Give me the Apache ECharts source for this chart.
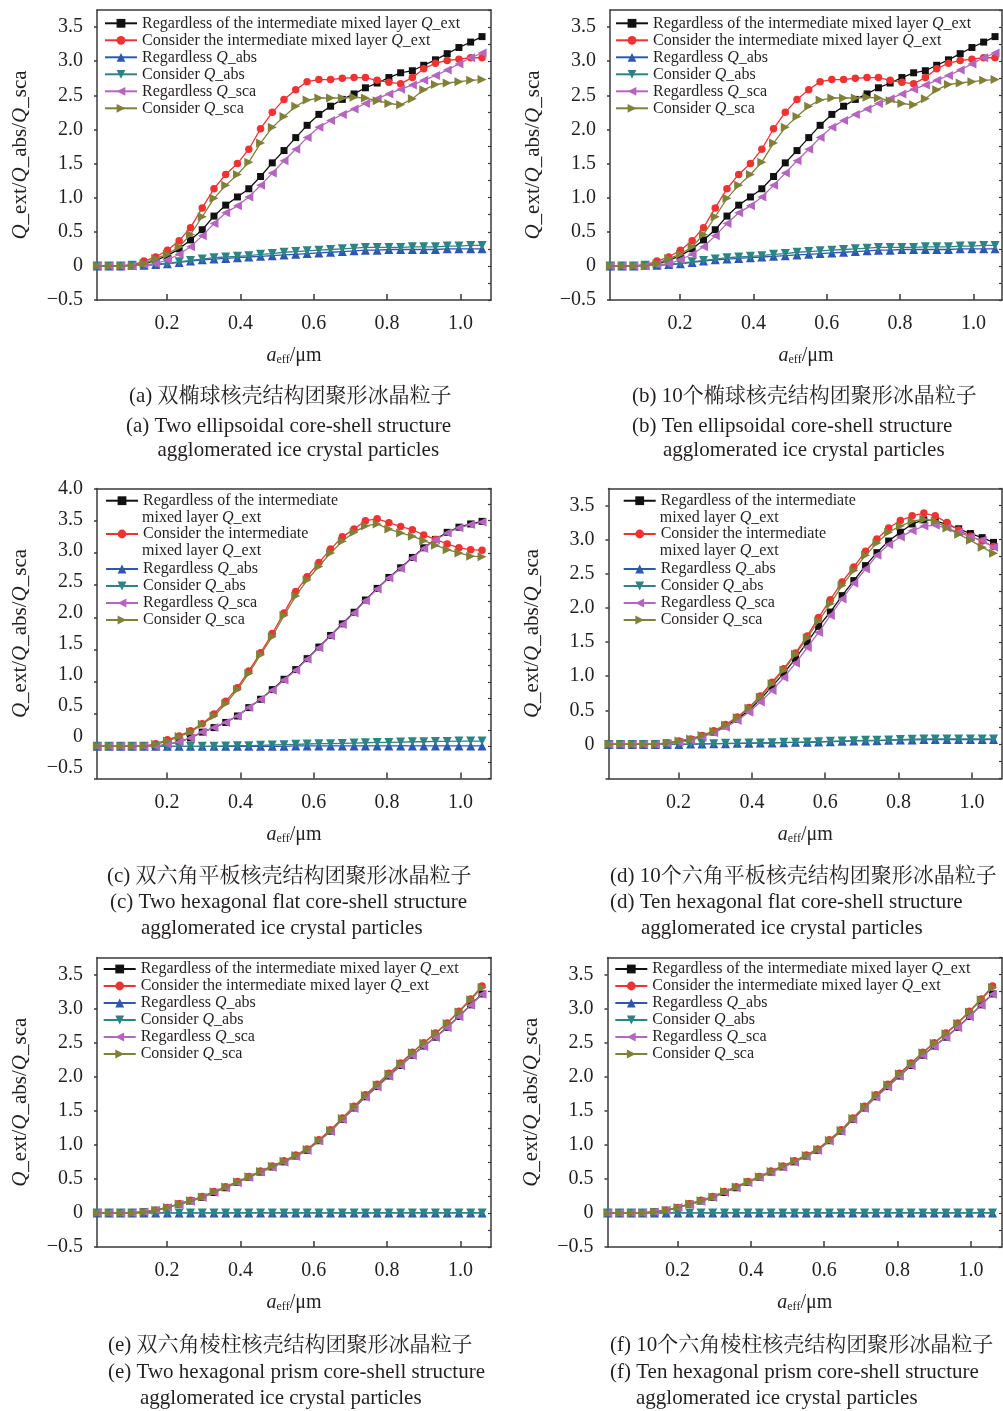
<!DOCTYPE html>
<html><head><meta charset="utf-8">
<script src="https://cdn.jsdelivr.net/npm/echarts@6.0.0/dist/echarts.min.js"></script>
<style>html,body{margin:0;padding:0;background:#fff}#c{width:1003px;height:1411px}</style>
</head><body><div id="c"></div>
<script>
// ---------------- data ----------------
const XS = [0.010,0.042,0.074,0.105,0.137,0.169,0.201,0.233,0.264,0.296,0.328,0.360,0.392,0.423,0.455,0.487,0.519,0.551,0.582,0.614,0.646,0.678,0.710,0.741,0.773,0.805,0.837,0.869,0.900,0.932,0.964,0.996,1.028,1.059];
const X_TICKS = [0.2,0.4,0.6,0.8,1.0];

// (a) and (b): ellipsoidal
const A_EXT_REG = [0,0,0,0.01,0.03,0.08,0.15,0.25,0.38,0.53,0.73,0.89,1.01,1.13,1.31,1.51,1.69,1.88,2.06,2.22,2.34,2.44,2.52,2.61,2.68,2.76,2.83,2.86,2.94,3.02,3.11,3.20,3.28,3.36];
const A_EXT_CON = [0,0,0,0.01,0.07,0.13,0.23,0.37,0.56,0.85,1.13,1.34,1.50,1.71,2.01,2.25,2.44,2.58,2.70,2.73,2.73,2.75,2.76,2.76,2.72,2.69,2.67,2.76,2.89,2.97,3.01,3.03,3.05,3.05];
const A_ABS_REG = [0,0,0,0.01,0.01,0.02,0.03,0.05,0.07,0.09,0.10,0.11,0.12,0.13,0.14,0.15,0.16,0.17,0.18,0.19,0.20,0.21,0.22,0.23,0.23,0.24,0.24,0.24,0.24,0.24,0.25,0.25,0.25,0.25];
const A_ABS_CON = [0,0,0,0.01,0.01,0.02,0.04,0.06,0.08,0.10,0.12,0.13,0.14,0.15,0.17,0.18,0.20,0.21,0.22,0.23,0.24,0.25,0.26,0.27,0.27,0.27,0.27,0.28,0.28,0.28,0.29,0.29,0.30,0.30];
const A_SCA_REG = [0,0,0,0,0.02,0.03,0.09,0.17,0.28,0.44,0.62,0.78,0.88,1.01,1.18,1.36,1.54,1.71,1.88,2.03,2.13,2.22,2.30,2.38,2.45,2.52,2.59,2.65,2.72,2.79,2.87,2.96,3.05,3.12];
const A_SCA_CON = [0,0,0,0,0.03,0.11,0.17,0.28,0.46,0.72,0.99,1.18,1.34,1.52,1.80,2.03,2.19,2.34,2.43,2.46,2.46,2.46,2.47,2.46,2.42,2.38,2.36,2.45,2.58,2.66,2.68,2.70,2.72,2.73];

// (c): hexagonal flat, two particles
const C_EXT_REG = [0,0,0,0,0,0,0.03,0.07,0.13,0.22,0.29,0.37,0.47,0.60,0.73,0.88,1.04,1.19,1.36,1.54,1.72,1.90,2.08,2.27,2.45,2.62,2.77,2.93,3.08,3.21,3.32,3.40,3.45,3.49];
const C_EXT_CON = [0,0,0,0,0,0.04,0.10,0.16,0.24,0.35,0.50,0.70,0.91,1.17,1.45,1.75,2.07,2.40,2.63,2.85,3.06,3.25,3.37,3.50,3.53,3.47,3.41,3.36,3.28,3.21,3.14,3.08,3.05,3.04];
const C_ABS_REG = [0,0,0,0,0,0,0,0,0,0,0,0,0,0,0,0,0,0.005,0.005,0.005,0.005,0.005,0.005,0.005,0.005,0.005,0.005,0.005,0.005,0.005,0.005,0.005,0.005,0.005];
const C_ABS_CON = [0,0,0,0,0,0,0,0,0,0,0,0.005,0.01,0.01,0.015,0.02,0.025,0.03,0.035,0.04,0.04,0.045,0.05,0.055,0.06,0.06,0.065,0.07,0.07,0.075,0.075,0.08,0.08,0.08];
const C_SCA_REG = [0,0,0,0,0,0,0.03,0.07,0.13,0.22,0.29,0.37,0.47,0.60,0.73,0.87,1.03,1.18,1.35,1.53,1.71,1.89,2.07,2.26,2.44,2.61,2.76,2.92,3.07,3.20,3.31,3.39,3.44,3.48];
const C_SCA_CON = [0,0,0,0,0,0.03,0.08,0.15,0.22,0.34,0.47,0.66,0.88,1.13,1.42,1.70,2.03,2.33,2.58,2.79,3.00,3.18,3.32,3.42,3.45,3.37,3.31,3.26,3.19,3.12,3.05,3.00,2.95,2.94];

// (d): hexagonal flat, ten particles
const D_EXT_REG = [0,0,0,0,0,0.02,0.04,0.07,0.12,0.18,0.27,0.37,0.50,0.66,0.85,1.04,1.26,1.50,1.73,1.94,2.18,2.40,2.62,2.81,2.98,3.11,3.23,3.29,3.28,3.22,3.16,3.09,3.03,2.96];
const D_EXT_CON = [0,0,0,0,0,0.02,0.05,0.08,0.13,0.20,0.29,0.40,0.54,0.71,0.91,1.11,1.34,1.59,1.86,2.12,2.38,2.60,2.83,3.01,3.17,3.28,3.35,3.39,3.35,3.25,3.14,3.05,2.98,2.90];
const D_ABS_REG = [0,0,0,0,0,0,0,0.005,0.005,0.01,0.01,0.015,0.015,0.02,0.02,0.025,0.03,0.03,0.035,0.04,0.045,0.05,0.05,0.055,0.06,0.065,0.065,0.07,0.07,0.07,0.07,0.07,0.07,0.07];
const D_ABS_CON = [0,0,0,0,0,0,0.005,0.005,0.01,0.01,0.015,0.015,0.02,0.02,0.025,0.03,0.03,0.035,0.04,0.045,0.05,0.055,0.06,0.06,0.065,0.07,0.075,0.08,0.08,0.08,0.08,0.08,0.08,0.08];
const D_SCA_REG = [0,0,0,0,0,0.01,0.03,0.06,0.11,0.17,0.25,0.35,0.47,0.62,0.79,0.98,1.19,1.42,1.64,1.89,2.13,2.36,2.57,2.77,2.93,3.04,3.13,3.20,3.21,3.17,3.11,3.04,2.99,2.89];
const D_SCA_CON = [0,0,0,0,0,0.02,0.05,0.08,0.13,0.19,0.28,0.39,0.53,0.69,0.89,1.09,1.32,1.56,1.81,2.06,2.33,2.55,2.77,2.95,3.11,3.20,3.27,3.30,3.27,3.17,3.08,2.99,2.89,2.80];

// (e) and (f): hexagonal prism
const E_EXT_REG = [0,0,0,0,0.015,0.04,0.08,0.13,0.175,0.23,0.30,0.37,0.45,0.525,0.60,0.675,0.75,0.835,0.92,1.06,1.20,1.375,1.54,1.705,1.855,2.01,2.165,2.315,2.45,2.58,2.725,2.885,3.055,3.215];
const E_EXT_CON = [0,0,0,0,0.015,0.04,0.08,0.135,0.185,0.24,0.315,0.385,0.46,0.535,0.615,0.69,0.765,0.85,0.94,1.075,1.22,1.395,1.565,1.735,1.89,2.05,2.20,2.36,2.50,2.64,2.79,2.96,3.14,3.33];
const E_ABS_REG = [0,0,0,0,0,0,0,0,0,0,0,0,0,0,0,0,0,0,0,0,0,0,0,0,0,0,0,0,0,0,0,0,0,0];
const E_ABS_CON = [0,0,0,0,0,0,0,0,0,0,0,0,0,0,0,0,0,0,0,0,0,0,0,0,0,0,0,0,0,0,0,0,0,0];
const E_SCA_REG = [0,0,0,0,0.015,0.04,0.08,0.125,0.17,0.225,0.30,0.37,0.445,0.52,0.60,0.67,0.745,0.83,0.915,1.055,1.195,1.37,1.535,1.70,1.85,2.005,2.16,2.31,2.445,2.575,2.72,2.88,3.05,3.21];
const E_SCA_CON = [0,0,0,0,0.015,0.04,0.08,0.13,0.18,0.235,0.31,0.38,0.455,0.53,0.61,0.685,0.76,0.845,0.93,1.065,1.21,1.385,1.555,1.725,1.88,2.04,2.19,2.35,2.49,2.63,2.78,2.95,3.13,3.31];

const SERIES_NAMES = ['Regardless of the intermediate mixed layer Q_ext','Consider the intermediate mixed layer Q_ext','Regardless Q_abs','Consider Q_abs','Regardless Q_sca','Consider Q_sca'];
const FIRST_LINES = ['Regardless of the intermediate','Consider the intermediate','Regardless Q_abs','Consider Q_abs','Regardless Q_sca','Consider Q_sca'];
const SECOND_LINE = 'mixed layer Q_ext';

const CAPTIONS = {
  a:['(a) 双椭球核壳结构团聚形冰晶粒子','(a) Two ellipsoidal core-shell structure','agglomerated ice crystal particles'],
  b:['(b) 10个椭球核壳结构团聚形冰晶粒子','(b) Ten ellipsoidal core-shell structure','agglomerated ice crystal particles'],
  c:['(c) 双六角平板核壳结构团聚形冰晶粒子','(c) Two hexagonal flat core-shell structure','agglomerated ice crystal particles'],
  d:['(d) 10个六角平板核壳结构团聚形冰晶粒子','(d) Ten hexagonal flat core-shell structure','agglomerated ice crystal particles'],
  e:['(e) 双六角棱柱核壳结构团聚形冰晶粒子','(e) Two hexagonal prism core-shell structure','agglomerated ice crystal particles'],
  f:['(f) 10个六角棱柱核壳结构团聚形冰晶粒子','(f) Ten hexagonal prism core-shell structure','agglomerated ice crystal particles']
};

// ---------------- styling ----------------
const FONT = "'Liberation Serif','Times New Roman','Noto Serif CJK SC','Noto Sans CJK SC',serif";
const TXT = '#231f20';
const AX = '#3a3a3a';
const COLORS = ['#111111','#f03232','#2f56b0','#2c8585','#b466bf','#808039'];
const SYMS = [['rect',0,7],['circle',0,7.5],['triangle',0,9],['triangle',180,9],['triangle',90,9],['triangle',-90,9]];
const RICH_I = {i:{fontStyle:'italic',fontFamily:FONT,fontSize:16,lineHeight:17,color:TXT}};
function richQ(s){ return s.replace(/Q_/g,'{i|Q}_'); }

const PANELS = [
  {id:'a', left:97,    top:10,    w:394,   h:290,   ymax:3.75, d:[A_EXT_REG,A_EXT_CON,A_ABS_REG,A_ABS_CON,A_SCA_REG,A_SCA_CON], split:false, lx:104,   ly:14.8,  cap:[[129,396.5],[126,426.5],[157.5,450.5]]},
  {id:'b', left:610,   top:10,    w:392,   h:290,   ymax:3.75, d:[A_EXT_REG,A_EXT_CON,A_ABS_REG,A_ABS_CON,A_SCA_REG,A_SCA_CON], split:false, lx:615,   ly:14.8,  cap:[[632,396.5],[632,426.5],[663,450.5]]},
  {id:'c', left:97,    top:488.5, w:394,   h:290,   ymax:4.0,  d:[C_EXT_REG,C_EXT_CON,C_ABS_REG,C_ABS_CON,C_SCA_REG,C_SCA_CON], split:true,  lx:105,   ly:492.2, ly2:560.5, labelAxis:[-0.681,4.009], cap:[[107,876],[110,902],[141,928]]},
  {id:'d', left:608.5, top:488.5, w:393.5, h:290,   ymax:3.75, d:[D_EXT_REG,D_EXT_CON,D_ABS_REG,D_ABS_CON,D_SCA_REG,D_SCA_CON], split:true,  lx:622.7, ly:492.2, ly2:560.5, hideNeg:true, cap:[[610,876],[610,902],[641,928]]},
  {id:'e', left:97,    top:957.5, w:394,   h:289.5, ymax:3.75, d:[E_EXT_REG,E_EXT_CON,E_ABS_REG,E_ABS_CON,E_SCA_REG,E_SCA_CON], split:false, lx:102.7, ly:960.5, cap:[[108,1345],[108,1372],[140,1398]]},
  {id:'f', left:607.5, top:957.5, w:394.5, h:289.5, ymax:3.75, d:[E_EXT_REG,E_EXT_CON,E_ABS_REG,E_ABS_CON,E_SCA_REG,E_SCA_CON], split:false, lx:614.3, ly:960.5, cap:[[610,1345],[610,1372],[636,1398]]}
];
const XMIN = 0.009, PX_PER_UNIT = 366.7;

function yFmt(hideNeg){
  return function(v){
    if (Math.abs(v) < 1e-9) return '0';
    if (v < 0) return hideNeg ? '' : '\u2212' + Math.abs(v).toFixed(1);
    return v.toFixed(1);
  };
}

const grid=[], xAxis=[], yAxis=[], series=[], legend=[], graphic=[];

PANELS.forEach((p, gi) => {
  grid.push({left:p.left, top:p.top, width:p.w, height:p.h, containLabel:false});
  const xmax = XMIN + p.w / PX_PER_UNIT;
  const xb = xAxis.length;
  xAxis.push({
    type:'value', gridIndex:gi, position:'bottom', min:XMIN, max:xmax,
    axisLine:{show:true, onZero:false, lineStyle:{color:AX, width:1.5}},
    axisTick:{show:true, inside:true, length:6, customValues:X_TICKS, lineStyle:{color:AX, width:1.5}},
    axisLabel:{show:true, customValues:X_TICKS, margin:14, fontFamily:FONT, fontSize:20, color:TXT, formatter:v=>v.toFixed(1)},
    splitLine:{show:false},
    name:'{i|a}{s|eff}{n|/μm}', nameLocation:'middle', nameGap:46,
    nameTextStyle:{fontFamily:FONT, fontSize:20, color:TXT, rich:{
      i:{fontStyle:'italic', fontFamily:FONT, fontSize:20, color:TXT},
      s:{fontFamily:FONT, fontSize:12, color:TXT, verticalAlign:'bottom', padding:[8,0,0,0]},
      n:{fontFamily:FONT, fontSize:20, color:TXT}}}
  });
  xAxis.push({
    type:'value', gridIndex:gi, position:'top', min:XMIN, max:xmax,
    axisLine:{show:true, onZero:false, lineStyle:{color:AX, width:1.5}},
    axisTick:{show:false}, axisLabel:{show:false}, splitLine:{show:false}
  });
  const yl = yAxis.length;
  yAxis.push({
    type:'value', gridIndex:gi, position:'left', min:-0.5, max:p.ymax, interval:0.5,
    axisLine:{show:true, onZero:false, lineStyle:{color:AX, width:1.5}},
    axisTick:{show:true, inside:false, length:3, lineStyle:{color:AX, width:1.5}},
    axisLabel:{show:!p.labelAxis, margin:14, fontFamily:FONT, fontSize:20, color:TXT, formatter:yFmt(p.hideNeg)},
    splitLine:{show:false},
    name:'{i|Q}_ext/{i|Q}_abs/{i|Q}_sca', nameLocation:'middle', nameGap:66, nameRotate:90,
    nameTextStyle:{fontFamily:FONT, fontSize:21, color:TXT, rich:{i:{fontStyle:'italic', fontFamily:FONT, fontSize:21, color:TXT}, n:{fontFamily:FONT, fontSize:21}}}
  });
  yAxis.push({
    type:'value', gridIndex:gi, position:'right', min:-0.5, max:p.ymax, interval:0.25,
    axisLine:{show:true, onZero:false, lineStyle:{color:AX, width:1.5}},
    axisTick:{show:true, inside:true, length:3, lineStyle:{color:AX, width:1.2}},
    axisLabel:{show:false}, splitLine:{show:false}
  });
  if (p.labelAxis) {
    const vals = [-0.5,0,0.5,1.0,1.5,2.0,2.5,3.0,3.5,4.0];
    yAxis.push({
      type:'value', gridIndex:gi, position:'left', min:p.labelAxis[0], max:p.labelAxis[1],
      axisLine:{show:false}, axisTick:{show:false}, splitLine:{show:false},
      axisLabel:{show:true, customValues:vals, margin:14, fontFamily:FONT, fontSize:20, color:TXT, formatter:yFmt(false), showMinLabel:true, showMaxLabel:true}
    });
  }
  p.d.forEach((vals, k) => {
    series.push({
      type:'line', name:SERIES_NAMES[k], xAxisIndex:xb, yAxisIndex:yl,
      data: XS.map((x,i)=>[x, vals[i]]),
      symbol:SYMS[k][0], symbolRotate:SYMS[k][1], symbolSize:SYMS[k][2], showSymbol:true,
      lineStyle:{color:COLORS[k], width:1.3}, itemStyle:{color:COLORS[k]},
      z: 2 + k, animation:false, silent:true, clip:true
    });
  });
  const baseLegend = {
    orient:'vertical', left:p.lx, itemWidth:32, itemHeight:11, itemGap:0, padding:0,
    selectedMode:false,
    textStyle:{fontFamily:FONT, fontSize:16, lineHeight:17, color:TXT, rich:RICH_I}
  };
  if (!p.split) {
    legend.push(Object.assign({}, baseLegend, {top:p.ly, data:SERIES_NAMES.slice(),
      formatter:name=>richQ(name)}));
  } else {
    legend.push(Object.assign({}, baseLegend, {top:p.ly, itemGap:16.3, data:SERIES_NAMES.slice(0,2),
      formatter:name=>richQ(FIRST_LINES[SERIES_NAMES.indexOf(name)])}));
    legend.push(Object.assign({}, baseLegend, {top:p.ly2, data:SERIES_NAMES.slice(2),
      formatter:name=>richQ(name)}));
    [p.ly + 8.5 + 16.8, p.ly + 8.5 + 33.3 + 16.8].forEach(yy => {
      graphic.push({type:'text', x:p.lx + 37, y:yy, silent:true,
        style:{text:richQ(SECOND_LINE), fontFamily:FONT, fontSize:16, fill:TXT, verticalAlign:'middle', align:'left',
          rich:{i:{fontStyle:'italic', fontFamily:FONT, fontSize:16, fill:TXT}}}});
    });
  }
  CAPTIONS[p.id].forEach((t, j) => {
    graphic.push({type:'text', x:p.cap[j][0], y:p.cap[j][1], silent:true,
      style:{text:t, fontFamily:FONT, fontSize:21, fill:TXT, verticalAlign:'middle', align:'left'}});
  });
});

const chart = echarts.init(document.getElementById('c'), null, {renderer:'canvas'});
chart.setOption({backgroundColor:'#ffffff', animation:false, grid, xAxis, yAxis, series, legend, graphic});
</script></body></html>
